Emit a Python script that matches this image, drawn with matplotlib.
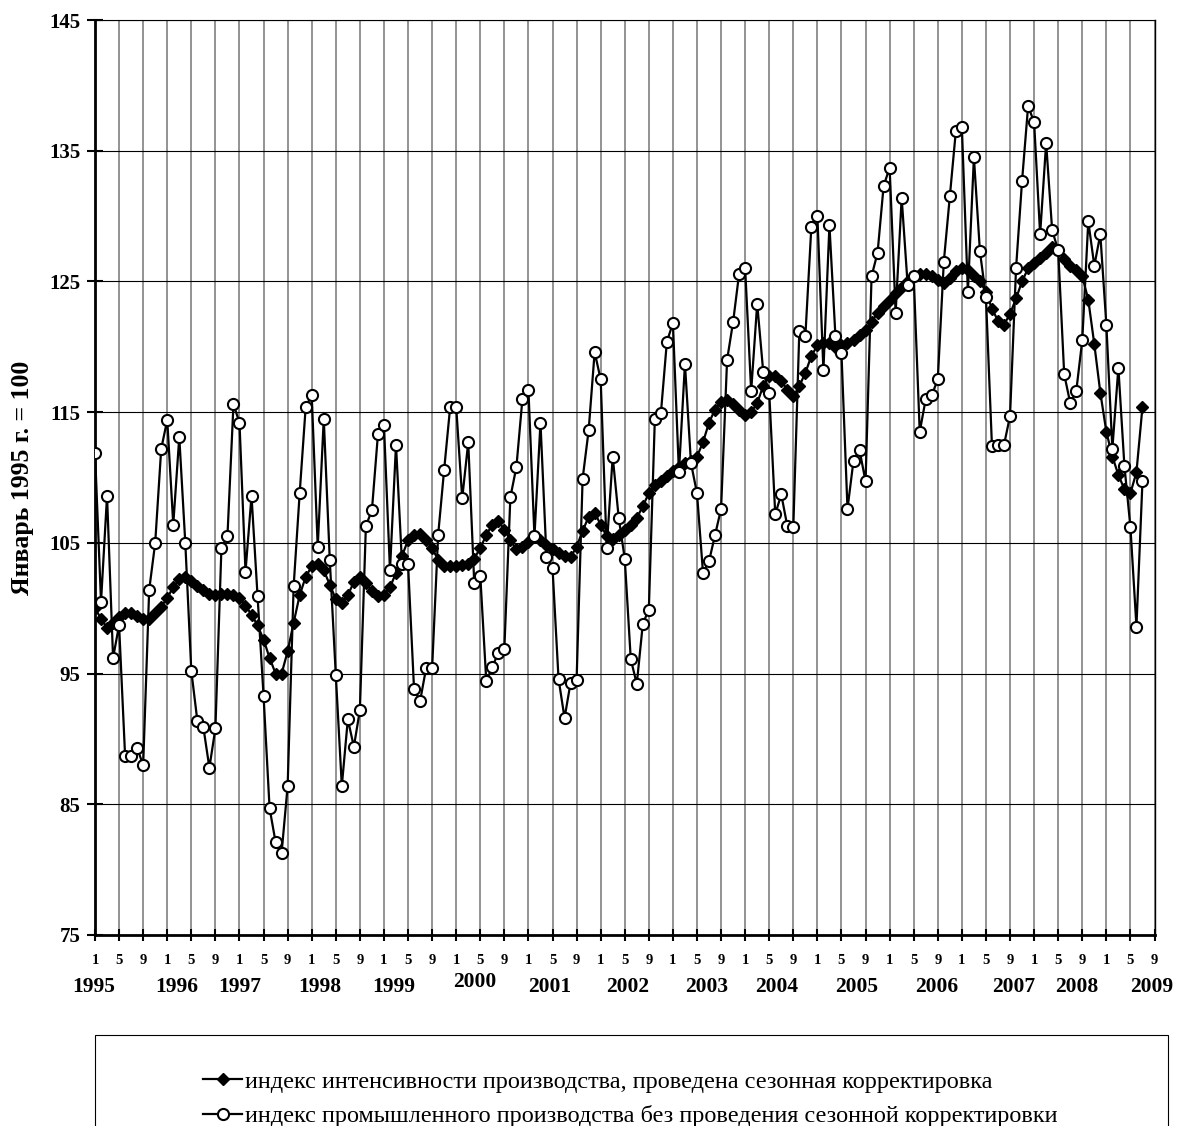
import matplotlib
matplotlib.use("Agg")
from matplotlib import pyplot as plt
from matplotlib.patches import Rectangle
from matplotlib.transforms import blended_transform_factory
import numpy as np

#------------------------------------------------------------------------
# Data: monthly values, January 1995 = 100
#------------------------------------------------------------------------

# seasonally adjusted index (filled diamonds), Jan 1995 .. Jul 2009
adjusted = [
  100.0, 99.2, 98.5, 98.9, 99.3, 99.6, 99.6, 99.4, 99.2, 99.2, 99.6, 100.1,
  100.8, 101.6, 102.2, 102.4, 102.1, 101.7, 101.4, 101.1, 101.0, 101.1, 101.1, 101.0,
  100.8, 100.2, 99.5, 98.7, 97.6, 96.2, 95.0, 95.0, 96.7, 98.9, 101.0, 102.4,
  103.2, 103.4, 102.9, 101.8, 100.7, 100.4, 101.0, 102.0, 102.4, 101.9, 101.3, 100.9,
  101.0, 101.6, 102.7, 104.0, 105.2, 105.6, 105.7, 105.2, 104.6, 103.7, 103.2, 103.2,
  103.25, 103.3, 103.4, 103.8, 104.6, 105.6, 106.4, 106.7, 106.0, 105.2, 104.5, 104.7,
  105.1, 105.5, 105.2, 104.8, 104.5, 104.2, 104.0, 103.9, 104.7, 105.9, 107.0, 107.3,
  106.4, 105.5, 105.3, 105.6, 106.0, 106.4, 106.9, 107.8, 108.8, 109.4, 109.7, 110.1,
  110.5, 110.8, 111.1, 111.3, 111.6, 112.7, 114.2, 115.2, 115.8, 115.9, 115.6, 115.2,
  114.8, 115.0, 115.7, 117.0, 117.8, 117.8, 117.4, 116.7, 116.2, 117.0, 118.0, 119.3,
  120.1, 120.3, 120.3, 120.0, 120.1, 120.3, 120.5, 120.9, 121.3, 121.9, 122.6, 123.1,
  123.6, 124.1, 124.6, 125.0, 125.4, 125.6, 125.6, 125.4, 125.1, 124.9, 125.3, 125.8,
  126.0, 125.9, 125.4, 125.0, 124.2, 122.9, 122.0, 121.7, 122.5, 123.7, 125.0, 126.0,
  126.4, 126.8, 127.2, 127.6, 127.4, 126.7, 126.2, 125.9, 125.4, 123.6, 120.2, 116.5,
  113.5, 111.6, 110.2, 109.1, 108.8, 110.4, 115.4,
]

# industrial production index without seasonal adjustment (open circles)
raw = [
  111.9, 100.5, 108.6, 96.2, 98.7, 88.7, 88.7, 89.3, 88.0, 101.4, 105.0, 112.2,
  114.4, 106.4, 113.1, 105.0, 95.2, 91.4, 90.9, 87.8, 90.8, 104.6, 105.5, 115.6,
  114.2, 102.8, 108.6, 100.9, 93.3, 84.7, 82.1, 81.3, 86.4, 101.7, 108.8, 115.4,
  116.3, 104.7, 114.5, 103.7, 94.9, 86.4, 91.5, 89.4, 92.2, 106.3, 107.5, 113.3,
  114.0, 102.9, 112.5, 103.4, 103.4, 93.8, 92.9, 95.4, 95.4, 105.6, 110.6, 115.4,
  115.4, 108.4, 112.7, 101.9, 102.5, 94.4, 95.5, 96.6, 96.9, 108.5, 110.8, 116.0,
  116.7, 105.5, 114.2, 103.9, 103.1, 94.6, 91.6, 94.3, 94.5, 109.9, 113.6, 119.6,
  117.5, 104.6, 111.6, 106.9, 103.8, 96.1, 94.2, 98.8, 99.9, 114.5, 114.9, 120.4,
  121.8, 110.4, 118.7, 111.1, 108.8, 102.7, 103.6, 105.6, 107.6, 119.0, 121.9, 125.6,
  126.0, 116.6, 123.3, 118.1, 116.5, 107.2, 108.7, 106.3, 106.2, 121.2, 120.8, 129.2,
  130.0, 118.2, 129.3, 120.8, 119.5, 107.6, 111.3, 112.1, 109.7, 125.4, 127.2, 132.3,
  133.7, 122.6, 131.4, 124.7, 125.4, 113.5, 116.0, 116.3, 117.5, 126.5, 131.5, 136.5,
  136.8, 124.2, 134.5, 127.3, 123.8, 112.4, 112.5, 112.5, 114.7, 126.0, 132.7, 138.4,
  137.2, 128.6, 135.6, 128.9, 127.4, 117.9, 115.7, 116.6, 120.5, 129.6, 126.2, 128.6,
  121.7, 112.2, 118.4, 110.9, 106.2, 98.6, 109.7,
]

month_labels = ["1", "5", "9"]
years = ["1995", "1996", "1997", "1998", "1999", "2000", "2001", "2002",
         "2003", "2004", "2005", "2006", "2007", "2008", "2009"]
# where the year captions sit (month index from Jan 1995), as in the original
year_pos = [-0.3, 13.5, 24.1, 37.4, 49.7, 63.1, 75.6, 88.4,
            101.6, 113.3, 126.6, 139.9, 152.6, 163.1, 175.5]

label_adj = "индекс интенсивности производства, проведена сезонная корректировка"
label_raw = "индекс промышленного производства без проведения сезонной корректировки"
ylabel = "Январь 1995 г. = 100"

#------------------------------------------------------------------------
# Plot
#------------------------------------------------------------------------

plt.rcParams["font.family"] = ["Liberation Serif", "DejaVu Serif"]

W, H = 1178, 1126
fig = plt.figure(figsize=(W / 100, H / 100), dpi=100)
ax = fig.add_axes([95 / W, (H - 935) / H, (1154.5 - 95) / W, (935 - 20) / H])

x_adj = np.arange(len(adjusted))
x_raw = np.arange(len(raw))

ax.plot(x_adj, adjusted, color="black", lw=1.6, marker="D", markersize=6.5,
        markerfacecolor="black", markeredgecolor="black", zorder=3, label=label_adj)
ax.plot(x_raw, raw, color="black", lw=1.6, marker="o", markersize=8,
        markerfacecolor="white", markeredgecolor="black", markeredgewidth=1.5,
        zorder=4, label=label_raw)

ax.set_xlim(0, 176)
ax.set_ylim(75, 145)

xt = np.arange(0, 177, 4)
ax.set_xticks(xt)
ax.set_xticklabels([month_labels[i % 3] for i in range(len(xt))],
                   fontsize=10.5, fontweight="bold")
ax.set_yticks(np.arange(75, 146, 10))
ax.set_yticklabels([str(v) for v in range(75, 146, 10)], fontsize=15, fontweight="bold")

ax.tick_params(axis="x", direction="inout", length=8, width=1.5, pad=10)
ax.tick_params(axis="y", direction="inout", length=11, width=1.5, pad=5)

ax.grid(axis="x", color="#808080", lw=1.2)
ax.grid(axis="y", color="black", lw=0.8)
ax.set_axisbelow(True)

for side in ["left", "bottom"]:
  ax.spines[side].set_linewidth(2)
ax.spines["top"].set_linewidth(0.8)
ax.spines["right"].set_linewidth(1.0)

ax.set_ylabel(ylabel, fontsize=18.5, fontweight="bold")
ax.yaxis.set_label_coords(-0.058, 0.5)

trans = blended_transform_factory(ax.transData, ax.transAxes)
for yr, pos in zip(years, year_pos):
  yy = -0.051 if yr == "2000" else -0.057
  ax.text(pos, yy, yr, transform=trans, ha="center", va="center",
          fontsize=15.5, fontweight="bold")

# legend box at the bottom, cut by the lower edge like the original
fig.add_artist(Rectangle((95 / W, -0.01), (1168 - 95) / W, (H - 1035) / H + 0.01,
                         transform=fig.transFigure, fill=False, ec="black", lw=0.8))
fig.legend(loc="center", bbox_to_anchor=(0.535, 1 - 1099 / H), frameon=False,
           fontsize=17.5, numpoints=1, handlelength=1.6, handletextpad=0.1,
           labelspacing=0.5, borderpad=0.1)

fig.savefig("out.png", dpi=100)
